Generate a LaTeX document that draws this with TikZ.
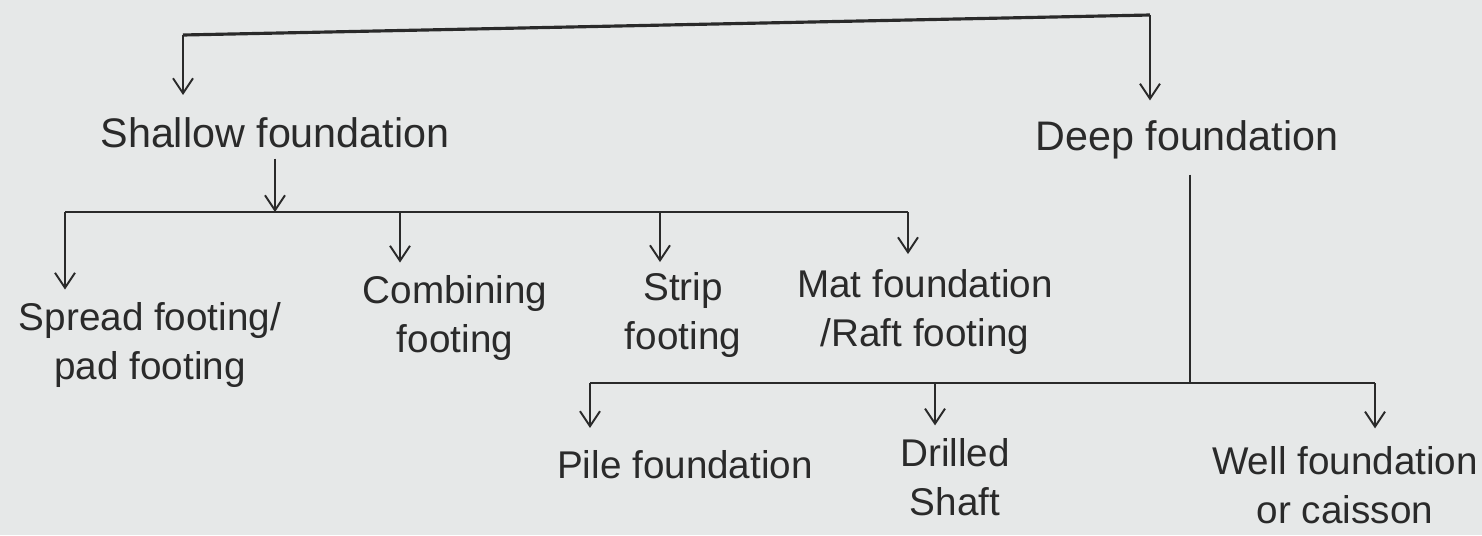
\documentclass[tikz,border=0pt]{standalone}
\usepackage{fontspec}
\setmainfont{Liberation Sans}
\usetikzlibrary{arrows.meta,calc}
\definecolor{paper}{HTML}{E6E8E8}
\definecolor{ink}{HTML}{2A2A2A}
\tikzset{
  lbl/.style={text=ink, align=center, inner sep=0pt, font=\fontsize{22}{28}\selectfont},
  big/.style={font=\fontsize{23.5}{28}\selectfont},
  ln/.style={draw=ink, line width=1.1pt},
  arr/.style={ln, -{Straight Barb[length=0.3cm,width=0.4cm]}},
}
\begin{document}
\begin{tikzpicture}[x=0.02cm,y=-0.02cm]
\fill[paper] (0,0) rectangle (1482,535);
\useasboundingbox (0,0) rectangle (1482,535);
% nodes
\node[lbl, big] (sh) at (275,133) {Shallow foundation};
\node[lbl, big] (dp) at (1187,140) {Deep foundation};
\node[lbl] (sp) at (150,345) {Spread footing/\\pad footing};
\node[lbl] (cb) at (455,318) {Combining\\footing};
\node[lbl] (st) at (683,315) {Strip\\footing};
\node[lbl] (mt) at (925,312) {Mat foundation\\/Raft footing};
\node[lbl] (pl) at (685,465) {Pile foundation};
\node[lbl] (dr) at (955,477) {Drilled\\Shaft};
\node[lbl] (wl) at (1345,485) {Well foundation\\or caisson};
% junction coordinates
\coordinate (t1) at (183,35);
\coordinate (t2) at (1150,15);
\coordinate (h1) at (65,212);
\coordinate (h2) at (400,212);
\coordinate (h3) at (660,212);
\coordinate (h4) at (908,212);
\coordinate (hs) at (275,212);
\coordinate (dj) at (1190,383);
\coordinate (k1) at (590,383);
\coordinate (k2) at (935,383);
\coordinate (k3) at (1375,383);
% top level
\draw[ln, line width=1.8pt] (t1) -- (t2);
\draw[arr, shorten >=0.45cm] (t1) -- (t1 |- sh.north);
\draw[arr, shorten >=0.4cm] (t2) -- (t2 |- dp.north);
% shallow branch
\draw[arr, shorten <=0.2cm] (sh.south) -- (hs);
\draw[ln] (h1) -- (h4);
\draw[arr, shorten >=0.25cm] (h1) -- (h1 |- sp.north);
\draw[arr, shorten >=0.25cm] (h2) -- (h2 |- cb.north);
\draw[arr, shorten >=0.2cm] (h3) -- (h3 |- st.north);
\draw[arr, shorten >=0.3cm] (h4) -- (h4 |- mt.north);
% deep branch
\draw[ln, shorten <=0.3cm] (dp.south -| dj) -- (dj);
\draw[ln] (k1) -- (k3);
\draw[arr, shorten >=0.45cm] (k1) -- (k1 |- pl.north);
\draw[arr, shorten >=0.25cm] (k2) -- (k2 |- dr.north);
\draw[arr, shorten >=0.35cm] (k3) -- (k3 |- wl.north);
\end{tikzpicture}
\end{document}
